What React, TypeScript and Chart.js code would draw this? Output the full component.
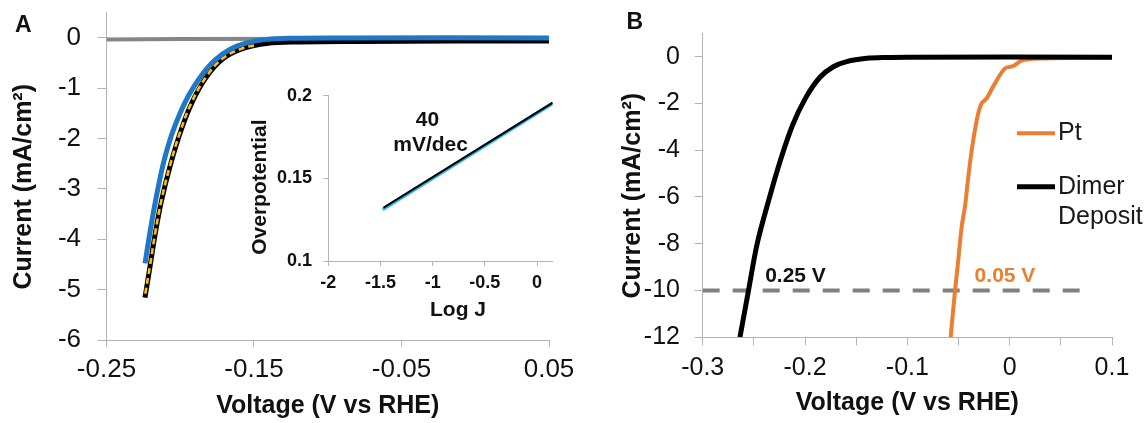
import React, { useEffect, useRef } from "react";
import { Chart, registerables } from "chart.js";

Chart.register(...registerables);

const FAMILY = "'Liberation Sans', Arial, Helvetica, sans-serif";
const AXIS_GRAY = "#b4b4b4";
const TEXT = "#111111";
const BLUE = "#1f77c6";
const GOLD = "#ffc000";
const CYAN = "#2db7ee";
const ORANGE = "#ed7d31";
const GRAY = "#858585";

// ---------------- Panel A : polarization curves ----------------
const aGrayVoltage = [-0.25, -0.2, 0.05];
const aGrayCurrent = [-0.03, -0.02, -0.01];

const aBlueVoltage = [-0.2239, -0.2212, -0.2183, -0.2149, -0.2109, -0.2059, -0.2002, -0.1935, -0.1855, -0.1765, -0.1664, -0.1551, -0.1415, -0.1235, -0.09, 0.05];
const aBlueCurrent = [-4.48, -3.98, -3.48, -2.96, -2.43, -1.93, -1.5, -1.1, -0.74, -0.44, -0.23, -0.1, -0.03, -0.006, 0.0, 0.0];

const aBlackVoltage = [-0.2239, -0.2205, -0.2169, -0.2126, -0.207, -0.2002, -0.1923, -0.1821, -0.1709, -0.1573, -0.1415, -0.1189, -0.08, 0.05];
const aBlackCurrent = [-5.16, -4.54, -3.88, -3.22, -2.56, -1.9, -1.3, -0.77, -0.41, -0.21, -0.11, -0.08, -0.07, -0.06];

const aGoldVoltage = [-0.2237, -0.2205, -0.2169, -0.2126, -0.207, -0.2002, -0.1923, -0.1821, -0.1709, -0.1573, -0.15];
const aGoldCurrent = [-5.08, -4.52, -3.86, -3.2, -2.54, -1.88, -1.28, -0.76, -0.4, -0.2, -0.15];

const aXTickLabels = ["-0.25", "-0.15", "-0.05", "0.05"];
const aYTickLabels = ["0", "-1", "-2", "-3", "-4", "-5", "-6"];

// ---------------- Inset : Tafel plot ----------------
const insetBlackLogJ = [-1.47, 0.15];
const insetBlackEta = [0.1323, 0.1958];
const insetCyanLogJ = [-1.48, 0.15];
const insetCyanEta = [0.1311, 0.1954];
const insetXTickLabels = ["-2", "-1.5", "-1", "-0.5", "0"];
const insetYTickLabels = ["0.1", "0.15", "0.2"];
const insetSlopeLabel = ["40", "mV/dec"];
const insetSlopeLogJ = [-1.05, -1.02];
const insetSlopeEta = [0.185, 0.17];

// ---------------- Panel B : Pt vs dimer deposit ----------------
const bDimerVoltage = [-0.2636, -0.2554, -0.2466, -0.2349, -0.2245, -0.2121, -0.1991, -0.1854, -0.1724, -0.1593, -0.1397, -0.1202, -0.1, 0.1];
const bDimerCurrent = [-12.0, -10.04, -7.97, -6.05, -4.49, -2.92, -1.74, -0.88, -0.43, -0.21, -0.07, -0.03, -0.02, -0.02];

const bPtVoltage = [-0.0577, -0.0535, -0.0502, -0.0469, -0.0437, -0.0404, -0.0371, -0.0339, -0.0307, -0.0274, -0.0225, -0.0144, -0.0046, 0.0035, 0.0117, 0.0296, 0.06, 0.1];
const bPtCurrent = [-12.0, -10.04, -8.69, -7.26, -6.41, -5.13, -3.99, -3.13, -2.42, -1.99, -1.78, -1.14, -0.5, -0.4, -0.17, -0.08, -0.05, -0.04];

const bRefCurrent = -10;
const bRefVoltage = [-0.3, 0.075];

const bXTickLabels = ["-0.3", "-0.2", "-0.1", "0", "0.1"];
const bYTickLabels = ["0", "-2", "-4", "-6", "-8", "-10", "-12"];

const bOverpotentialLabels = ["0.25 V", "0.05 V"];
const bOverpotentialVoltage = [-0.2093, -0.0046];
const bOverpotentialCurrent = [-9.4, -9.4];

const bLegendLabels = [["Pt"], ["Dimer", "Deposit"]];

// ---------------- helpers ----------------
const toPoints = (xs: number[], ys: number[]) => xs.map((x, i) => ({ x, y: ys[i] }));

const labelFor = (labels: string[]) => (v: number) => {
  const hit = labels.find((s) => Math.abs(parseFloat(s) - v) < 1e-9);
  return hit === undefined ? "" : hit;
};

const font = (size: number, bold = false) => ({ family: FAMILY, size, weight: bold ? "bold" : "normal" });

type ScaleOpts = {
  min: number;
  max: number;
  step: number;
  labels: string[];
  tickFont: any;
  tickPad: number;
  tickLen: number;
  size: number;
  horizontal: boolean;
  title: string;
  titleFont: any;
  titlePad: any;
};

const makeScale = (o: ScaleOpts) => ({
  type: "linear",
  min: o.min,
  max: o.max,
  ticks: {
    stepSize: o.step,
    autoSkip: false,
    maxRotation: 0,
    minRotation: 0,
    includeBounds: false,
    font: o.tickFont,
    color: TEXT,
    padding: o.tickPad,
    callback: labelFor(o.labels),
  },
  grid: {
    display: true,
    drawOnChartArea: false,
    drawTicks: true,
    tickLength: o.tickLen,
    color: AXIS_GRAY,
    lineWidth: 1,
  },
  border: { display: true, color: AXIS_GRAY, width: 1 },
  title: { display: true, text: o.title, font: o.titleFont, color: TEXT, padding: o.titlePad },
  afterFit: (s: any) => {
    if (o.horizontal) s.height = o.size;
    else s.width = o.size;
    s.paddingTop = 0;
    s.paddingBottom = 0;
    s.paddingLeft = 0;
    s.paddingRight = 0;
  },
});

type TextItem = {
  text: string;
  font: string;
  color: string;
  x: number;
  y: number;
  mode: "px" | "data";
  align?: CanvasTextAlign;
};

const textPlugin = (id: string, items: TextItem[]) => ({
  id,
  afterDatasetsDraw(chart: any) {
    const { ctx, scales } = chart;
    ctx.save();
    for (const it of items) {
      let x = it.x;
      let y = it.y;
      if (it.mode === "data") {
        x = scales.x.getPixelForValue(it.x);
        y = scales.y.getPixelForValue(it.y);
      }
      ctx.font = it.font;
      ctx.fillStyle = it.color;
      ctx.textAlign = it.align || "center";
      ctx.textBaseline = "middle";
      ctx.fillText(it.text, x, y);
    }
    ctx.restore();
  },
});

const lineDs = (label: string, data: any[], color: string, width: number, extra: any = {}) => ({
  label,
  data,
  borderColor: color,
  backgroundColor: color,
  borderWidth: width,
  pointRadius: 0,
  pointHoverRadius: 0,
  fill: false,
  cubicInterpolationMode: "default",
  tension: 0.4,
  borderCapStyle: "butt",
  borderJoinStyle: "round",
  ...extra,
});

const commonOptions = (padding: any, scales: any) => ({
  responsive: false,
  animation: false,
  events: [],
  layout: { padding },
  plugins: { legend: { display: false }, tooltip: { enabled: false }, title: { display: false } },
  scales,
});

// ---------------- chart configs ----------------
const makePanelA = () => ({
  type: "line",
  data: {
    datasets: [
      lineDs("Sample 1", toPoints(aBlueVoltage, aBlueCurrent), BLUE, 5),
      lineDs("Sample 3", toPoints(aGoldVoltage, aGoldCurrent), GOLD, 2.6, { borderDash: [6, 4] }),
      lineDs("Sample 2", toPoints(aBlackVoltage, aBlackCurrent), "#000000", 5),
      lineDs("Blank", toPoints(aGrayVoltage, aGrayCurrent), GRAY, 4, { tension: 0 }),
    ],
  },
  options: commonOptions(
    { left: 0, top: 12.7, right: 51, bottom: 0 },
    {
      x: makeScale({
        min: -0.25, max: 0.05, step: 0.1, labels: aXTickLabels,
        tickFont: font(26), tickPad: 7.4, tickLen: 7, size: 83, horizontal: true,
        title: "Voltage (V vs RHE)", titleFont: font(25, true), titlePad: { top: 0, bottom: 2 },
      }),
      y: makeScale({
        min: -6, max: 0.5, step: 1, labels: aYTickLabels,
        tickFont: font(26), tickPad: 16.5, tickLen: 9, size: 106.5, horizontal: false,
        title: "Current (mA/cm²)   ", titleFont: font(25, true), titlePad: { top: 9.4, bottom: 0 },
      }),
    }
  ),
  plugins: [
    textPlugin("panelAText", [
      { text: "A", font: `bold 23px ${FAMILY}`, color: TEXT, x: 23.3, y: 25.8, mode: "px" },
    ]),
  ],
});

const makeInset = () => ({
  type: "line",
  data: {
    datasets: [
      lineDs("Tafel fit", toPoints(insetBlackLogJ, insetBlackEta), "#000000", 2, { tension: 0 }),
      lineDs("Tafel data", toPoints(insetCyanLogJ, insetCyanEta), CYAN, 3.5, { tension: 0 }),
    ],
  },
  options: commonOptions(
    { left: 0, top: 15.7, right: 12.3, bottom: 0 },
    {
      x: makeScale({
        min: -2, max: 0.15, step: 0.5, labels: insetXTickLabels,
        tickFont: font(18, true), tickPad: 6.2, tickLen: 5, size: 69, horizontal: true,
        title: "      Log J", titleFont: font(21, true), titlePad: { top: 0, bottom: 7.4 },
      }),
      y: makeScale({
        min: 0.1, max: 0.2, step: 0.05, labels: insetYTickLabels,
        tickFont: font(18, true), tickPad: 11.3, tickLen: 5, size: 108.3, horizontal: false,
        title: "Overpotential   ", titleFont: font(21, true), titlePad: { top: 28, bottom: 0 },
      }),
    }
  ),
  plugins: [
    textPlugin(
      "insetText",
      insetSlopeLabel.map((t, i) => ({
        text: t, font: `bold 21px ${FAMILY}`, color: TEXT,
        x: insetSlopeLogJ[i], y: insetSlopeEta[i], mode: "data" as const,
      }))
    ),
  ],
});

const bLegendPlugin = {
  id: "bLegend",
  afterDatasetsDraw(chart: any) {
    const { ctx, chartArea } = chart;
    const entries = [
      { lines: bLegendLabels[0], color: ORANGE, width: 4, dy: 100 },
      { lines: bLegendLabels[1], color: "#000000", width: 5, dy: 153.4 },
    ];
    ctx.save();
    ctx.font = `25px ${FAMILY}`;
    ctx.textAlign = "left";
    ctx.textBaseline = "middle";
    for (const e of entries) {
      const y = chartArea.top + e.dy;
      const x0 = chartArea.left + 314.3;
      ctx.strokeStyle = e.color;
      ctx.lineWidth = e.width;
      ctx.lineCap = "butt";
      ctx.beginPath();
      ctx.moveTo(x0, y);
      ctx.lineTo(x0 + 38, y);
      ctx.stroke();
      ctx.fillStyle = "#1a1a1a";
      e.lines.forEach((ln, k) => ctx.fillText(ln, x0 + 41, y + k * 30));
    }
    ctx.restore();
  },
};

const makePanelB = () => ({
  type: "line",
  data: {
    datasets: [
      lineDs("Dimer Deposit", toPoints(bDimerVoltage, bDimerCurrent), "#000000", 5, { tension: 0.35 }),
      lineDs("Pt", toPoints(bPtVoltage, bPtCurrent), ORANGE, 4, { tension: 0.3 }),
      lineDs("-10 mA/cm²", toPoints(bRefVoltage, bRefVoltage.map(() => bRefCurrent)), "#808080", 4, {
        borderDash: [17, 13],
        tension: 0,
      }),
    ],
  },
  options: commonOptions(
    { left: 0, top: 33.3, right: 36, bottom: 0 },
    {
      x: makeScale({
        min: -0.3, max: 0.1, step: 0.05, labels: bXTickLabels,
        tickFont: font(25), tickPad: 7.7, tickLen: 8, size: 85.7, horizontal: true,
        title: "Voltage (V vs RHE)", titleFont: font(25, true), titlePad: { top: 0, bottom: 5 },
      }),
      y: makeScale({
        min: -12, max: 1, step: 2, labels: bYTickLabels,
        tickFont: font(25), tickPad: 14.7, tickLen: 8, size: 142.7, horizontal: false,
        title: "Current (mA/cm²)   ", titleFont: font(25, true), titlePad: { top: 57.7, bottom: 0 },
      }),
    }
  ),
  plugins: [
    textPlugin("panelBText", [
      { text: "B", font: `bold 23px ${FAMILY}`, color: TEXT, x: 74.7, y: 22.5, mode: "px" },
      {
        text: bOverpotentialLabels[0], font: `bold 21px ${FAMILY}`, color: "#111111",
        x: bOverpotentialVoltage[0], y: bOverpotentialCurrent[0], mode: "data",
      },
      {
        text: bOverpotentialLabels[1], font: `bold 21px ${FAMILY}`, color: ORANGE,
        x: bOverpotentialVoltage[1], y: bOverpotentialCurrent[1], mode: "data",
      },
    ]),
    bLegendPlugin,
  ],
});

// ---------------- components ----------------
function ChartCanvas(props: { left: number; top: number; width: number; height: number; make: () => any }) {
  const ref = useRef<HTMLCanvasElement>(null);
  useEffect(() => {
    if (!ref.current) return;
    const chart = new Chart(ref.current, props.make());
    return () => chart.destroy();
  }, []);
  return (
    <canvas
      ref={ref}
      width={props.width}
      height={props.height}
      style={{
        position: "absolute",
        left: props.left,
        top: props.top,
        width: props.width,
        height: props.height,
        display: "block",
      }}
    />
  );
}

export default function App() {
  Chart.defaults.font.family = FAMILY;
  return (
    <div
      style={{
        position: "absolute",
        left: 0,
        top: 0,
        width: 1148,
        height: 423,
        background: "#ffffff",
        overflow: "hidden",
      }}
    >
      <ChartCanvas left={0} top={0} width={600} height={423} make={makePanelA} />
      <ChartCanvas left={560} top={0} width={588} height={423} make={makePanelB} />
      <ChartCanvas left={220} top={80} width={345} height={250} make={makeInset} />
    </div>
  );
}
